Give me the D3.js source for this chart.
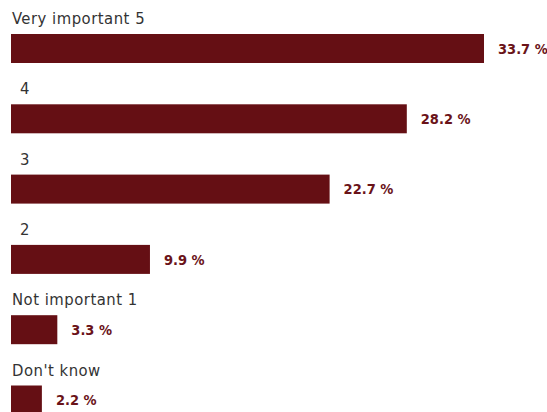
<!DOCTYPE html>
<html>
<head>
<meta charset="utf-8">
<script src="https://cdn.jsdelivr.net/npm/d3@7"></script>
<style>
  html, body { margin: 0; padding: 0; background: #fff; }
  svg { display: block; }
  text { font-family: "DejaVu Sans Condensed", "DejaVu Sans", sans-serif; }
</style>
</head>
<body>
<svg id="chart" width="547" height="412"></svg>
<script>
// Survey answers and their shares (%)
const categories = ["Very important 5", "4", "3", "2", "Not important 1", "Don't know"];
const shares = [33.7, 28.2, 22.7, 9.9, 3.3, 2.2];

const width = 547, height = 412;
const barColor = "#650f14";
const valueColor = "#6a1319";
const labelColor = "#333333";

const svg = d3.select("#chart");

const left = 11;
const x = d3.scaleLinear().domain([0, 33.7]).range([left, 484]);

// Each row: a label line, then the bar
const rows = d3.scaleBand()
  .domain(categories)
  .range([34, 34 + 70.3 * categories.length])
  .paddingInner(0)
  .paddingOuter(0);
const barH = 29;

const data = categories.map((c, i) => ({ cat: c, v: shares[i] }));

const g = svg.append("g");

g.selectAll("rect.bar")
  .data(data)
  .join("rect")
  .attr("class", "bar")
  .attr("x", x(0))
  .attr("y", d => rows(d.cat))
  .attr("width", d => x(d.v) - x(0))
  .attr("height", barH)
  .attr("fill", barColor);

// Category labels above each bar; bare score digits sit slightly indented
g.selectAll("text.cat")
  .data(data)
  .join("text")
  .attr("class", "cat")
  .attr("x", d => d.cat.length === 1 ? left + 9 : left + 1)
  .attr("y", d => rows(d.cat) - 10)
  .attr("fill", labelColor)
  .attr("font-size", 16.5)
  .attr("letter-spacing", 0.5)
  .text(d => d.cat);

// Value labels to the right of each bar
g.selectAll("text.val")
  .data(data)
  .join("text")
  .attr("class", "val")
  .attr("x", d => x(d.v) + 14)
  .attr("y", d => rows(d.cat) + barH / 2)
  .attr("dy", "0.36em")
  .attr("fill", valueColor)
  .attr("font-size", 14.5)
  .attr("font-weight", "bold")
  .text(d => d.v.toFixed(1) + " %");
</script>
</body>
</html>
